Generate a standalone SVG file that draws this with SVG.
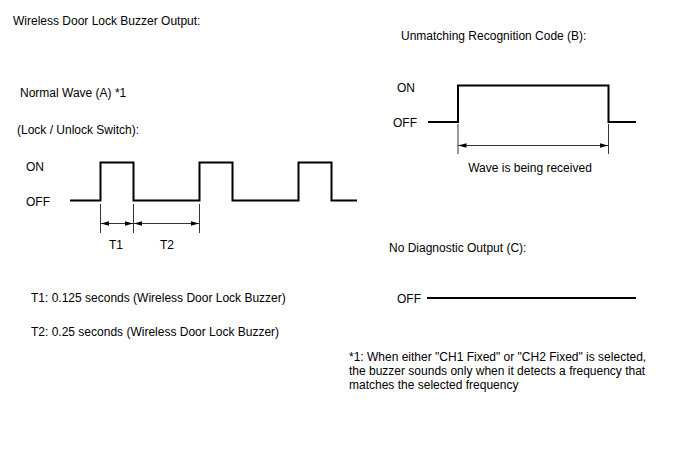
<svg xmlns="http://www.w3.org/2000/svg" width="688" height="463" viewBox="0 0 688 463">
<style>
text{font-family:"Liberation Sans",Arial,sans-serif;font-size:12px;fill:#000}
.w{fill:none;stroke:#000;stroke-width:2}
.e{fill:none;stroke:#000;stroke-width:0.8}
.d{fill:none;stroke:#000;stroke-width:0.8;marker-start:url(#ah);marker-end:url(#ah)}
</style>
<defs>
<marker id="ah" viewBox="0 0 8 6" refX="8" refY="3" markerWidth="8" markerHeight="6" markerUnits="userSpaceOnUse" orient="auto-start-reverse">
<path d="M0,0.8 L8,3 L0,5.2 Z" fill="#000"/>
</marker>
</defs>
<rect width="688" height="463" fill="#fff"/>
<g id="titles">
<text x="13" y="24.5">Wireless Door Lock Buzzer Output:</text>
<text x="20" y="96.5">Normal Wave (A) *1</text>
<text x="17" y="133.5">(Lock / Unlock Switch):</text>
<text x="401" y="39.5">Unmatching Recognition Code (B):</text>
<text x="389" y="251.5">No Diagnostic Output (C):</text>
</g>
<g id="wave-a">
<text x="26" y="170.5">ON</text>
<text x="26" y="205.5">OFF</text>
<path class="w" d="M70,200.5 H100.5 V162.5 H133.5 V200.5 H199.5 V162.5 H232.5 V200.5 H298.5 V162.5 H331.5 V200.5 H357"/>
</g>
<g id="wave-b">
<text x="397" y="91.5">ON</text>
<text x="393" y="126.5">OFF</text>
<path class="w" d="M428,122 H458 V85.5 H608.5 V122 H636"/>
</g>
<g id="wave-c">
<text x="397" y="302.5">OFF</text>
<path class="w" d="M427,298 H636"/>
</g>
<g id="connectors">
<path class="e" d="M100.5,204 V233 M133.5,204 V233 M199.5,204 V233"/>
<path class="d" d="M101,223.5 H133"/>
<path class="d" d="M134,223.5 H199"/>
<path class="e" d="M458,124 V154 M608.5,124 V154"/>
<path class="d" d="M458.5,145.5 H608"/>
</g>
<g id="labels">
<text x="116" y="248.5" text-anchor="middle">T1</text>
<text x="167" y="248.5" text-anchor="middle">T2</text>
<text x="530" y="171.5" text-anchor="middle">Wave is being received</text>
<text x="31" y="301.5">T1: 0.125 seconds (Wireless Door Lock Buzzer)</text>
<text x="31" y="335.5">T2: 0.25 seconds (Wireless Door Lock Buzzer)</text>
<text x="349" y="360.5">*1: When either "CH1 Fixed" or "CH2 Fixed" is selected,</text>
<text x="349" y="374.5">the buzzer sounds only when it detects a frequency that</text>
<text x="349" y="388.5">matches the selected frequency</text>
</g>
</svg>
